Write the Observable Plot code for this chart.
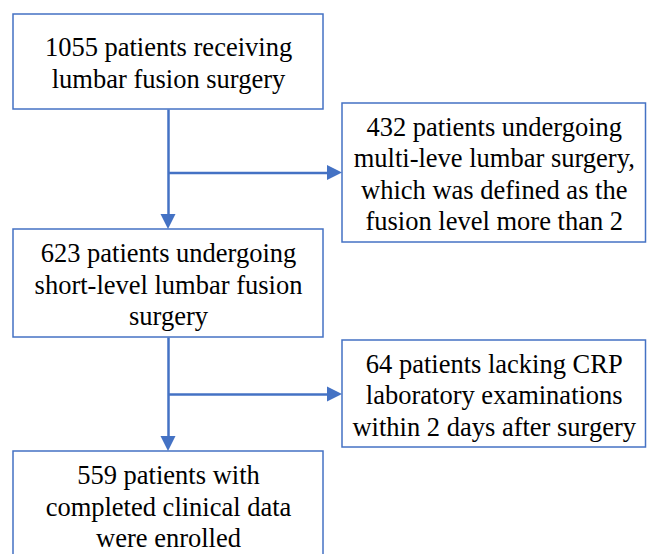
<!DOCTYPE html>
<html>
<head>
<meta charset="utf-8">
<script src="https://cdn.jsdelivr.net/npm/d3@7"></script>
<script src="https://cdn.jsdelivr.net/npm/@observablehq/plot@0.6"></script>
<style>
  html, body { margin: 0; padding: 0; background: #fff; }
</style>
</head>
<body>
<div id="chart"></div>
<script>
// Node labels (flow steps)
const mainSteps = [
  "1055 patients receiving\nlumbar fusion surgery",
  "623 patients undergoing\nshort-level lumbar fusion\nsurgery",
  "559 patients with\ncompleted clinical data\nwere enrolled"
];
const exclusions = [
  "432 patients undergoing\nmulti-leve lumbar surgery,\nwhich was defined as the\nfusion level more than 2",
  "64 patients lacking CRP\nlaboratory examinations\nwithin 2 days after surgery"
];

// Layout (pixel coordinates of the diagram)
const W = 647, H = 554;
const mainX = [13, 323];
const mainY = [[14, 109], [229, 337], [451, 559]];
const exclX = [342, 645.5];
const exclY = [[103, 242], [340, 447]];
const trunkX = 168;
const branchY = [172.5, 394];

const boxes = [
  ...mainSteps.map((t, i) => ({label: t, x1: mainX[0], x2: mainX[1], y1: mainY[i][0], y2: mainY[i][1]})),
  ...exclusions.map((t, i) => ({label: t, x1: exclX[0], x2: exclX[1], y1: exclY[i][0], y2: exclY[i][1]}))
];

const vLinks = [0, 1].map(i => ({x1: trunkX, x2: trunkX, y1: mainY[i][1], y2: mainY[i + 1][0] - 10}));
const hLinks = [0, 1].map(i => ({x1: trunkX, x2: exclX[0] - 10, y1: branchY[i], y2: branchY[i]}));

// arrowheads as filled triangles
const headLen = 15, headHalf = 7.5;
const downHeads = [0, 1].map(i => {
  const tip = mainY[i + 1][0];
  return [
    {k: "d" + i, x: trunkX - headHalf, y1: tip - headLen, y2: tip - headLen},
    {k: "d" + i, x: trunkX, y1: tip - headLen, y2: tip},
    {k: "d" + i, x: trunkX + headHalf, y1: tip - headLen, y2: tip - headLen}
  ];
}).flat();
const rightHeads = [0, 1].map(i => {
  const tip = exclX[0];
  const y = branchY[i];
  return [
    {k: "r" + i, y: y - headHalf, x1: tip - headLen, x2: tip - headLen},
    {k: "r" + i, y: y, x1: tip - headLen, x2: tip},
    {k: "r" + i, y: y + headHalf, x1: tip - headLen, x2: tip - headLen}
  ];
}).flat();

const blue = "#4472C4";

const chart = Plot.plot({
  width: W,
  height: H,
  margin: 0,
  x: {domain: [0, W], range: [0, W], axis: null},
  y: {domain: [0, H], range: [0, H], axis: null},
  style: {background: "#fff"},
  marks: [
    Plot.rect(boxes, {x1: "x1", x2: "x2", y1: "y1", y2: "y2", fill: "#fff", stroke: blue, strokeWidth: 1.5}),
    Plot.link(vLinks, {x1: "x1", x2: "x2", y1: "y1", y2: "y2", stroke: blue, strokeWidth: 2.5}),
    Plot.link(hLinks, {x1: "x1", x2: "x2", y1: "y1", y2: "y2", stroke: blue, strokeWidth: 2.5}),
    Plot.areaY(downHeads, {x: "x", y1: "y1", y2: "y2", z: "k", fill: blue, curve: "linear"}),
    Plot.areaX(rightHeads, {y: "y", x1: "x1", x2: "x2", z: "k", fill: blue, curve: "linear"}),
    Plot.text(boxes, {
      x: d => (d.x1 + d.x2) / 2,
      y: d => (d.y1 + d.y2) / 2,
      text: "label",
      fontFamily: "Liberation Serif",
      fontSize: 26.5,
      lineHeight: 1.19,
      lineAnchor: "middle",
      textAnchor: "middle",
      fill: "#000"
    })
  ]
});
document.getElementById("chart").appendChild(chart);
</script>
</body>
</html>
